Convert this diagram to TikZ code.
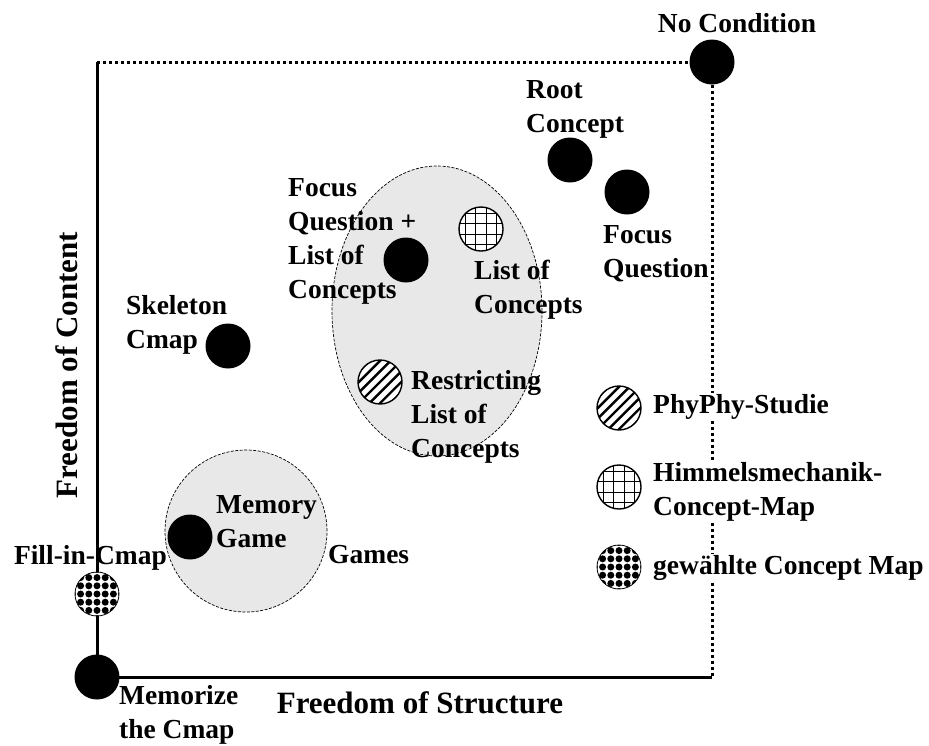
\documentclass[tikz,border=0pt]{standalone}
\usepackage{fontspec}
\setmainfont{Liberation Serif}
\usetikzlibrary{shapes.geometric}
\begin{document}
\begin{tikzpicture}[x=1pt,y=-1pt,
  lbl/.style={font=\fontsize{27.5}{34}\selectfont\bfseries, inner sep=1pt, align=left},
  axislbl/.style={font=\fontsize{31}{36}\selectfont\bfseries, inner sep=1pt},
  legendlbl/.style={lbl, fill=white},
  blackdot/.style={circle, fill=black, minimum size=45pt, inner sep=0pt},
  % diagonal hatching
  hatchdot/.style={circle, draw=black, line width=1.4pt, fill=white, minimum size=44pt, inner sep=0pt,
    path picture={
      \foreach \k in {-4,...,4}
        \draw[black, line width=2.4pt] ([shift={(5.3*\k-30,5.3*\k+30)}]path picture bounding box.center)
          -- ++(60,-60);
    }},
  % square grid
  griddot/.style={circle, draw=black, line width=1.4pt, fill=white, minimum size=44pt, inner sep=0pt,
    path picture={
      \foreach \k in {-15.75,-5.25,5.25,15.75} {
        \draw[black, line width=1.3pt] ([shift={(\k,-25)}]path picture bounding box.center) -- ++(0,50);
        \draw[black, line width=1.3pt] ([shift={(-25,\k)}]path picture bounding box.center) -- ++(50,0);
      }
    }},
  % dot lattice
  checkdot/.style={circle, draw=black, line width=0.8pt, fill=white, minimum size=44pt, inner sep=0pt,
    path picture={
      \foreach \i in {-3,...,3}
        \foreach \j in {-3,...,3}
          \fill[black] ([shift={(8.2*\i,8.2*\j)}]path picture bounding box.center) circle[radius=3.5pt];
    }},
  group/.style={draw=black, fill=gray!18, line width=0.7pt, dash pattern=on 3pt off 1.5pt, inner sep=0pt},
  axis/.style={line width=3pt},
  bound/.style={line width=3pt, dash pattern=on 3pt off 3pt},
]
\useasboundingbox[fill=white] (0,0) rectangle (929,745);

% shaded groupings
\node (listgroup) [ellipse, group, minimum width=210pt, minimum height=290pt] at (437,311) {};
\node (gamesgroup) [circle, group, minimum size=162pt] at (246,531) {};

% frame corners
\coordinate (origin) at (97,677);
\coordinate (topleft) at (97,62);
\coordinate (botright) at (712,677);

% markers
\node (nocond) [blackdot] at (712,62) {};
\node (root) [blackdot] at (570,160) {};
\node (focusq) [blackdot] at (627,192) {};
\node (fqlist) [blackdot] at (406,260) {};
\node (listc) [griddot] at (481,229) {};
\node (restrict) [hatchdot] at (380,382) {};
\node (skeleton) [blackdot] at (228,346) {};
\node (memgame) [blackdot] at (190,537) {};

% axes and limits
\draw[bound] (topleft) -- (nocond);
\draw[bound] (nocond) -- (botright);
\draw[axis] (topleft) -- (origin) -- (botright);

\node (fillin) [checkdot] at (97,594) {};
\node (memorize) [blackdot] at (97,677) {};

% legend
\node (leg1) [hatchdot] at (619,408) {};
\node (leg2) [griddot] at (619,487) {};
\node (leg3) [checkdot] at (619,567) {};
\node (leg1t) [legendlbl, anchor=west] at (652,407) {PhyPhy-Studie};
\node (leg2t) [legendlbl, anchor=west] at (652,492) {Himmelsmechanik-\\Concept-Map};
\node (leg3t) [legendlbl, anchor=west] at (652,568) {gewählte Concept Map};

% labels
\node (nocondt) [lbl] at (737,23) {No Condition};
\node (roott) [lbl, anchor=west] at (525,109) {Root\\Concept};
\node (focusqt) [lbl, anchor=west] at (602,254) {Focus\\Question};
\node (fqlistt) [lbl, anchor=west] at (287,241) {Focus\\Question +\\List of\\Concepts};
\node (listct) [lbl, anchor=west] at (473,290) {List of\\Concepts};
\node (restrictt) [lbl, anchor=west] at (410,417) {Restricting\\List of\\Concepts};
\node (skeletont) [lbl, anchor=west] at (125,325) {Skeleton\\Cmap};
\node (memgamet) [lbl, anchor=west] at (215,522) {Memory\\Game};
\node (gamest) [lbl, anchor=west] at (327,555) {Games};
\node (fillint) [lbl, anchor=east] at (168,558) {Fill-in-Cmap};
\node (memorizet) [lbl, anchor=west] at (118,715) {Memorize\\the Cmap};
\node (xaxis) [axislbl] at (420,703) {Freedom of Structure};
\node (yaxis) [axislbl, rotate=90] at (67,365) {Freedom of Content};
\end{tikzpicture}
\end{document}
